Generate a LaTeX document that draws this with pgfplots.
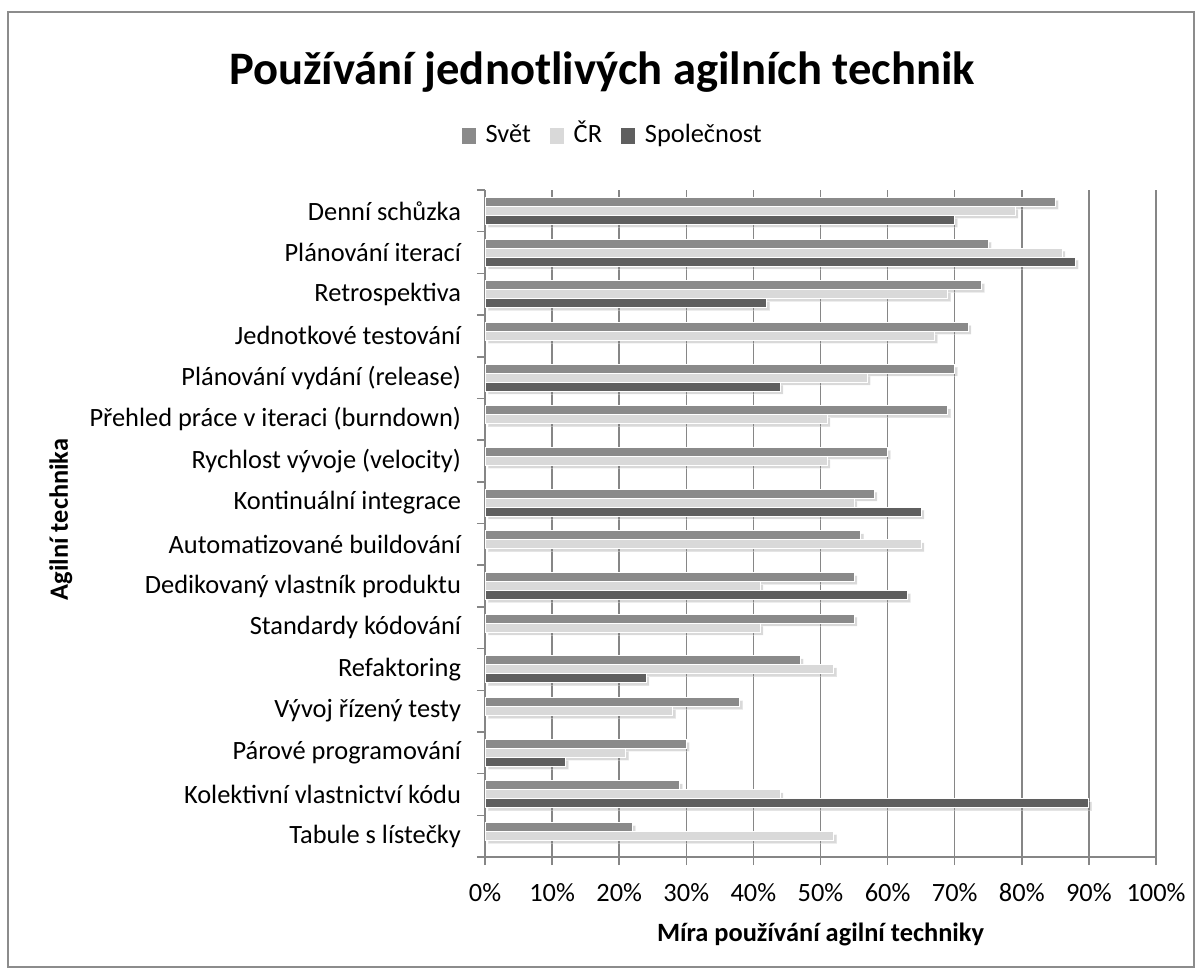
\documentclass[border=0pt]{standalone}
\usepackage{fontspec}
\setmainfont{Carlito}
\usepackage{pgfplots}
\pgfplotsset{compat=1.18}
\usetikzlibrary{shadows}
\definecolor{svet}{HTML}{8A8A8A}
\definecolor{cr}{HTML}{D9D9D9}
\definecolor{spol}{HTML}{5F5F5F}
\definecolor{gridc}{HTML}{868686}
\definecolor{framec}{HTML}{8C8C8C}
\newcommand{\lbl}{\fontsize{13.2bp}{15bp}\selectfont}
\begin{document}
\begin{tikzpicture}
\useasboundingbox (0,0) rectangle (601bp,-487bp);
\draw[framec,line width=0.75bp] (4bp,-6bp) rectangle (597bp,-483.5bp);
\node[font=\fontsize{23.3bp}{27bp}\selectfont\bfseries] at (301bp,-36bp) {Používání jednotlivých agilních technik};
\begin{axis}[
  at={(242.5bp,-95bp)}, anchor=north west,
  scale only axis, width=335.5bp, height=333.5bp,
  xmin=0, xmax=100, ymin=-0.5, ymax=15.5,
  axis x line*=bottom, axis y line*=left,
  axis line style={gridc, line width=0.75bp, -},
  xbar, bar width=0.216,
  tick align=outside, major tick length=4bp,
  xtick={0,10,...,100},
  xticklabels={0\%,10\%,20\%,30\%,40\%,50\%,60\%,70\%,80\%,90\%,100\%},
  xtick style={draw=gridc, line width=0.75bp},
  xmajorgrids, major grid style={draw=gridc, line width=0.75bp},
  ytick={0,...,15},
  yticklabels={Tabule s lístečky,Kolektivní vlastnictví kódu,Párové programování,Vývoj řízený testy,Refaktoring,Standardy kódování,Dedikovaný vlastník produktu,Automatizované buildování,Kontinuální integrace,Rychlost vývoje (velocity),Přehled práce v iteraci (burndown),Plánování vydání (release),Jednotkové testování,Retrospektiva,Plánování iterací,Denní schůzka},
  ytick style={draw=none},
  extra y ticks={-0.5,0.5,...,15.5},
  extra y tick labels={},
  extra y tick style={ytick style={draw=gridc, line width=0.75bp}, grid=none},
  tick label style={font=\lbl},
  yticklabel style={xshift=-4.5bp},
  xticklabel style={yshift=-5.5bp},
  xlabel={Míra používání agilní techniky},
  xlabel style={at={(axis description cs:0.5,-0.1154)}, anchor=center, font=\lbl\bfseries},
  ylabel={Agilní technika},
  ylabel style={at={(axis description cs:-0.632,0.506)}, anchor=center, font=\lbl\bfseries},
  legend style={at={(0.192,1.081)}, anchor=center, draw=none, fill=none, legend columns=3, font=\lbl,
    nodes={text height=9.5bp, text depth=2.5bp},
    /tikz/every odd column/.append style={column sep=3bp},
    /tikz/every even column/.append style={column sep=7.5bp}},
]
\addlegendimage{legend image code/.code={\fill[svet] (0bp,-3.8bp) rectangle (6.5bp,3.7bp);}}
\addlegendimage{legend image code/.code={\fill[cr] (0bp,-3.8bp) rectangle (6.5bp,3.7bp);}}
\addlegendimage{legend image code/.code={\fill[spol] (0bp,-3.8bp) rectangle (6.5bp,3.7bp);}}
\addplot[forget plot, fill=svet, draw=white, line width=0.5bp, bar shift=0.216,
  drop shadow={shadow xshift=1.5bp, shadow yshift=-1.5bp, opacity=0.3}] coordinates {
(85,15) (75,14) (74,13) (72,12) (70,11) (69,10) (60,9) (58,8) (56,7) (55,6) (55,5) (47,4) (38,3) (30,2) (29,1) (22,0)};
\addplot[forget plot, fill=cr, draw=white, line width=0.5bp, bar shift=0,
  drop shadow={shadow xshift=1.5bp, shadow yshift=-1.5bp, opacity=0.3}] coordinates {
(79,15) (86,14) (69,13) (67,12) (57,11) (51,10) (51,9) (55,8) (65,7) (41,6) (41,5) (52,4) (28,3) (21,2) (44,1) (52,0)};
\addplot[forget plot, fill=spol, draw=white, line width=0.5bp, bar shift=-0.216,
  drop shadow={shadow xshift=1.5bp, shadow yshift=-1.5bp, opacity=0.3}] coordinates {
(70,15) (88,14) (42,13) (44,11) (65,8) (63,6) (24,4) (12,2) (90,1)};
\legend{Svět,ČR,Společnost}
\end{axis}
\end{tikzpicture}
\end{document}
